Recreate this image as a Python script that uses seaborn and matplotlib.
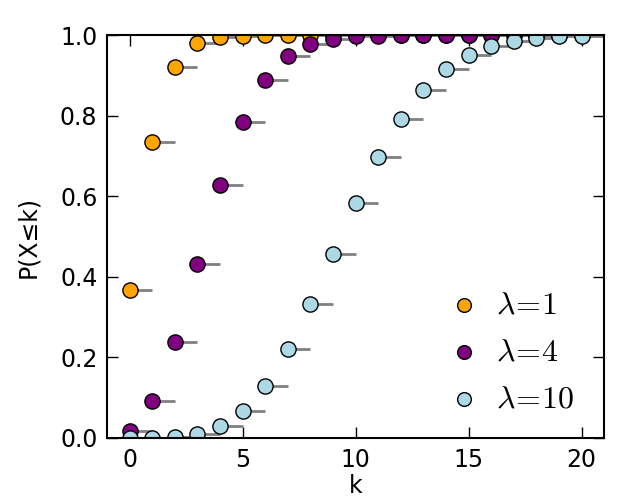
import numpy as np
import pandas as pd
import matplotlib
matplotlib.use("Agg")
import matplotlib.pyplot as plt
import seaborn as sns

# values (cumulative probability P(X<=k))
k_values = list(range(21))
cdf_lam1 = [0.368, 0.736, 0.920, 0.981, 0.996, 0.999, 1.000, 1.000, 1.000, 1.000,
            1.000, 1.000, 1.000, 1.000, 1.000, 1.000, 1.000, 1.000, 1.000, 1.000, 1.000]
cdf_lam4 = [0.018, 0.092, 0.238, 0.433, 0.629, 0.785, 0.889, 0.949, 0.979, 0.992,
            0.997, 0.999, 1.000, 1.000, 1.000, 1.000, 1.000, 1.000, 1.000, 1.000, 1.000]
cdf_lam10 = [0.000, 0.000, 0.003, 0.010, 0.029, 0.067, 0.130, 0.220, 0.333, 0.458,
             0.583, 0.697, 0.792, 0.864, 0.917, 0.951, 0.973, 0.986, 0.993, 0.997, 0.998]
series_labels = [r"$\lambda\!=\!1$", r"$\lambda\!=\!4$", r"$\lambda\!=\!10$"]
series_colors = ["orange", "purple", "lightblue"]

sns.set_style("ticks")
plt.rcParams["font.family"] = ["DejaVu Sans"]
plt.rcParams["mathtext.fontset"] = "cm"
for key in ["text.color", "axes.labelcolor", "xtick.color", "ytick.color", "axes.edgecolor"]:
    plt.rcParams[key] = "black"

df = pd.DataFrame({
    "k": k_values * 3,
    "cdf": cdf_lam1 + cdf_lam4 + cdf_lam10,
    "series": [series_labels[0]] * 21 + [series_labels[1]] * 21 + [series_labels[2]] * 21,
})

fig = plt.figure(figsize=(6.3, 5.04), dpi=100)
ax = fig.add_axes([0.17, 0.131, 0.789, 0.799])

for label, color in zip(series_labels, series_colors):
    sub = df[df["series"] == label]
    ax.hlines(sub["cdf"], sub["k"], sub["k"] + 1, colors="gray", linewidth=2)
    sns.scatterplot(data=sub, x="k", y="cdf", color=color, s=120,
                    edgecolor="black", linewidth=1, ax=ax, label=label, zorder=3)

ax.set_xlim(-1, 21)
ax.set_ylim(0, 1)
ax.set_xticks([0, 5, 10, 15, 20])
ax.set_yticks([0.0, 0.2, 0.4, 0.6, 0.8, 1.0])
ax.set_yticklabels(["0.0", "0.2", "0.4", "0.6", "0.8", "1.0"])
ax.tick_params(axis="both", which="both", direction="in", length=8, width=1,
               top=True, right=True, labelsize=17, pad=7)
for sp in ax.spines.values():
    sp.set_linewidth(1.5)
    sp.set_color("black")
    sp.set_zorder(5)
ax.set_xlabel("k", fontsize=17, labelpad=2)
ax.set_ylabel("P(X≤k)", fontsize=17, labelpad=14)

leg = ax.legend(loc="lower right", bbox_to_anchor=(0.964, 0.027), frameon=False,
                fontsize=23, markerscale=0.9, handlelength=1.0,
                handletextpad=0.5, borderaxespad=0.0)

fig.savefig("out.png", dpi=100)
